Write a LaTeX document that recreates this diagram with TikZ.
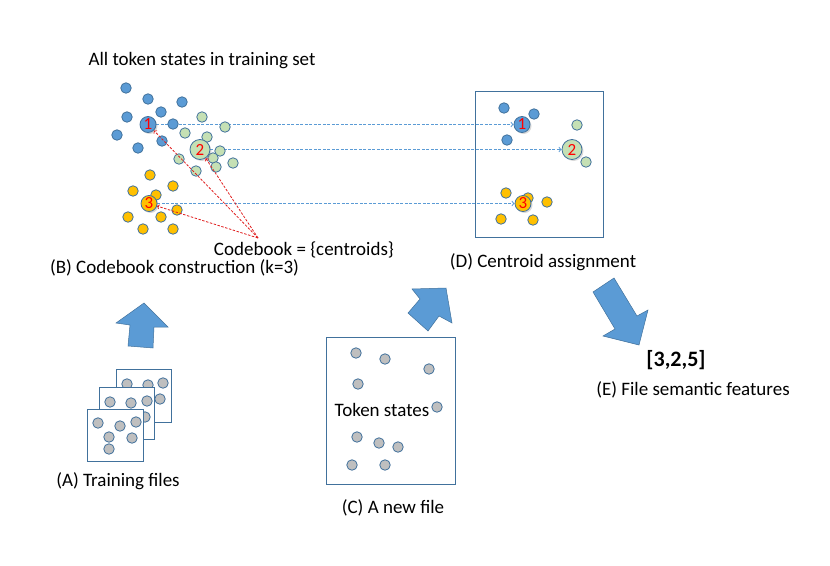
\documentclass[tikz,border=0pt]{standalone}
\usepackage{fontspec}
\setmainfont{Carlito}
\usetikzlibrary{shapes,arrows,shadows}
\definecolor{dotblue}{HTML}{5B9BD5}
\definecolor{edgeblue}{HTML}{41719C}
\definecolor{dotgreen}{HTML}{C5E0B4}
\definecolor{dotyellow}{HTML}{FFC000}
\definecolor{dotgray}{HTML}{BFBFBF}
\definecolor{pickred}{HTML}{E02020}
\pgfdeclarelayer{background}
\pgfsetlayers{background,main}
\tikzstyle{tokdot} = [draw=edgeblue, circle, inner sep=0pt, minimum size=10.5pt, line width=0.8pt]
\tikzstyle{centroid} = [tokdot, minimum size=16pt, text=red,
    font=\fontsize{17}{17}\selectfont,
    drop shadow={opacity=0.3, shadow xshift=1.5pt, shadow yshift=-1.5pt}]
\tikzstyle{sheet} = [draw=edgeblue, line width=0.9pt, rectangle]
\tikzstyle{bigarrow} = [draw=edgeblue, fill=dotblue, line width=0.5pt]
\tikzstyle{assign} = [draw=dotblue, dash pattern=on 3pt off 1.5pt, ->, line width=1pt]
\tikzstyle{pick} = [draw=pickred, dash pattern=on 2.5pt off 1.5pt, ->, line width=0.8pt]
\tikzstyle{txt} = [font=\fontsize{19}{22}\selectfont, inner sep=0pt]

\begin{document}
\begin{tikzpicture}[x=1pt, y=-1pt]
\useasboundingbox (0,0) rectangle (830,565);

% codebook construction
\node[txt] (alltok) at (202,61) {All token states in training set};
\foreach \x/\y [count=\i] in {126/88, 148/99, 182/102, 161/112, 127/117, 173/124, 117/135, 162/141, 138/148}
  \node[tokdot, fill=dotblue] (lb\i) at (\x,\y) {};
\foreach \x/\y [count=\i] in {202/117, 225/127, 185/133, 207/137, 220/151, 213/158, 179/159, 233/163, 216/167, 196/171}
  \node[tokdot, fill=dotgreen] (lg\i) at (\x,\y) {};
\foreach \x/\y [count=\i] in {150/175, 133/191, 173/186, 156/195, 177/210, 128/217, 161/217, 143/229, 173/229}
  \node[tokdot, fill=dotyellow] (ly\i) at (\x,\y) {};
\node[centroid, fill=dotblue] (L1) at (148,124.5) {1};
\node[centroid, fill=dotgreen, minimum size=20pt] (L2) at (200,149.5) {2};
\node[centroid, fill=dotyellow] (L3) at (149,203.5) {3};

\node[txt] (cb) at (304,250) {Codebook = \{centroids\}};
\coordinate (pk) at (258,238);
\draw[pick] (pk) -- (L1);
\draw[pick] (pk) -- (L2);
\draw[pick] (pk) -- (L3);
\node[txt] (labB) at (174.5,268) {(B) Codebook construction (k=3)};

% centroid assignment
\node[sheet, minimum width=128pt, minimum height=146pt] (dbox) at (539,164) {};
\foreach \x/\y [count=\i] in {504/108, 534/114, 507/140}
  \node[tokdot, fill=dotblue] (rb\i) at (\x,\y) {};
\foreach \x/\y [count=\i] in {577/125, 586/162}
  \node[tokdot, fill=dotgreen] (rg\i) at (\x,\y) {};
\foreach \x/\y [count=\i] in {506/193, 528/198, 547/202, 501/219, 533/220}
  \node[tokdot, fill=dotyellow] (ry\i) at (\x,\y) {};
\node[centroid, fill=dotblue] (R1) at (522,124.5) {1};
\node[centroid, fill=dotgreen, minimum size=20pt] (R2) at (572,149.5) {2};
\node[centroid, fill=dotyellow] (R3) at (523,203.5) {3};
\begin{pgfonlayer}{background}
\draw[assign] (L1) -- (R1);
\draw[assign] (L2) -- (R2);
\draw[assign] (L3) -- (R3);
\end{pgfonlayer}
\node[txt] (labD) at (543,262) {(D) Centroid assignment};

% training files
\node[sheet, fill=white, minimum width=55pt, minimum height=53pt] (tf3) at (143.5,395.5) {};
\foreach \x/\y [count=\i] in {127/384, 148/385, 163/383, 160/399}
  \node[tokdot, fill=dotgray] (t3d\i) at (\x,\y) {};
\node[sheet, fill=white, minimum width=55pt, minimum height=52pt] (tf2) at (126.5,413) {};
\foreach \x/\y [count=\i] in {110/402, 131/403, 147/401, 145/417}
  \node[tokdot, fill=dotgray] (t2d\i) at (\x,\y) {};
\node[sheet, fill=white, minimum width=56pt, minimum height=52pt] (tf1) at (115,435) {};
\foreach \x/\y [count=\i] in {98/423, 120/426, 136/422, 109/437, 132/438, 109/449}
  \node[tokdot, fill=dotgray] (t1d\i) at (\x,\y) {};
\node[txt] (labA) at (118,481) {(A) Training files};

% a new file
\node[sheet, minimum width=129pt, minimum height=147pt] (nf) at (390.5,410.5) {};
\foreach \x/\y [count=\i] in {356/353, 385/359, 429/369, 358/384, 437/407, 357/437, 379/443, 398/447, 352/465, 385/465}
  \node[tokdot, fill=dotgray] (nd\i) at (\x,\y) {};
\node[txt] (tokst) at (382,410) {Token states};
\node[txt] (labC) at (393,508) {(C) A new file};

% block arrows
\draw[bigarrow] (144,303) -- (168,327) -- (154,327) -- (153,348) -- (128,346) -- (130,325) -- (116,323) -- cycle;
\draw[bigarrow] (446,288) -- (452,323) -- (439,316) -- (428,331) -- (408,313) -- (420,299) -- (412,289) -- cycle;
\draw[bigarrow] (593,292) -- (614,278) -- (637,316) -- (648,310) -- (639,345) -- (603,336) -- (615,329) -- cycle;

% features
\node[font=\fontsize{22}{24}\selectfont\bfseries, inner sep=0pt] (feat) at (676,360) {[3,2,5]};
\node[txt] (labE) at (693,390) {(E) File semantic features};
\end{tikzpicture}
\end{document}
